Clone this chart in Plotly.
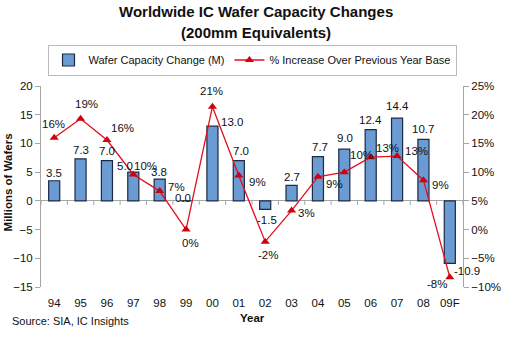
import plotly.graph_objects as go

years = ["94", "95", "96", "97", "98", "99", "00", "01", "02", "03", "04", "05", "06", "07", "08", "09F"]
capacity_change = [3.5, 7.3, 7.0, 5.0, 3.8, 0.0, 13.0, 7.0, -1.5, 2.7, 7.7, 9.0, 12.4, 14.4, 10.7, -10.9]
pct_increase = [16.0, 19.3, 15.6, 9.6, 6.7, 0.0, 21.4, 9.4, -2.1, 3.3, 9.2, 10.0, 12.6, 12.8, 8.6, -8.3]

xpos = list(range(len(years)))

# label offsets (pixels) - styling only
bar_lbl_shift = [(0, 8), (0, 9), (0, 10), (-8, 6), (-1, 7), (-3, 3), (20, 4), (2, 10),
                 (2, -11), (0, 8), (2, 10), (1, 11), (0, 10), (0, 12), (0, 10), (17, -8)]
pct_lbl_shift = [(-1, 14), (6, 15), (16, 12), (12, 8), (17, 4), (4, -13), (-1, 16), (19, -6),
                 (3, -13), (15, -2), (17, -7), (17, 17), (17, 9), (19, 5), (17, -5), (-13, -7)]

FONT = "Liberation Sans, Arial, sans-serif"
AXIS_GRAY = "#A6A6A6"
FS = 11.5

fig = go.Figure()
fig.add_trace(go.Bar(
    x=xpos, y=capacity_change, name="Wafer Capacity Change (M)",
    marker=dict(color="#6A9BD2", line=dict(color="#1B2A45", width=1.2)),
    width=0.42, yaxis="y",
))
fig.add_trace(go.Scatter(
    x=xpos, y=pct_increase, name="% Increase Over Previous Year Base",
    mode="lines+markers", yaxis="y2",
    line=dict(color="#E0101E", width=1.3),
    marker=dict(symbol="triangle-up", size=8, color="#D00010"),
))

ann = []
for i, v in enumerate(capacity_change):
    dx, dy = bar_lbl_shift[i]
    ann.append(dict(x=xpos[i], y=v, xref="x", yref="y", text=f"{v:.1f}", showarrow=False,
                    xanchor="center", yanchor="middle",
                    xshift=dx, yshift=dy, font=dict(size=FS, color="#111", family=FONT)))
for i, v in enumerate(pct_increase):
    dx, dy = pct_lbl_shift[i]
    ann.append(dict(x=xpos[i], y=v, xref="x", yref="y2", text=f"{v:.0f}%", showarrow=False,
                    xanchor="center", yanchor="middle",
                    xshift=dx, yshift=dy, font=dict(size=FS, color="#111", family=FONT)))

ann += [
    dict(x=0.51, y=1.372, xref="paper", yref="paper", showarrow=False, xanchor="center", yanchor="middle",
         text="<b>Worldwide IC Wafer Capacity Changes</b>", font=dict(size=15, color="#111", family=FONT)),
    dict(x=0.51, y=1.268, xref="paper", yref="paper", showarrow=False, xanchor="center", yanchor="middle",
         text="<b>(200mm Equivalents)</b>", font=dict(size=15, color="#111", family=FONT)),
    dict(x=-0.076, y=0.52, xref="paper", yref="paper", showarrow=False, textangle=-90,
         xanchor="center", yanchor="middle",
         text="<b>Millions of Wafers</b>", font=dict(size=11.5, color="#111", family=FONT)),
    dict(x=0.5, y=-0.154, xref="paper", yref="paper", showarrow=False, xanchor="center", yanchor="middle",
         text="<b>Year</b>", font=dict(size=11.5, color="#111", family=FONT)),
    dict(x=-0.0735, y=-0.169, xref="paper", yref="paper", showarrow=False, xanchor="left", yanchor="middle",
         text="Source: SIA, IC Insights", font=dict(size=11, color="#111", family=FONT)),
]

# small tick marks along the zero line between categories
shapes = []
for k in range(len(years) + 1):
    shapes.append(dict(type="line", xref="x", yref="y", x0=k - 0.5, x1=k - 0.5,
                       ysizemode="pixel", yanchor=0, y0=0, y1=-4,
                       line=dict(color=AXIS_GRAY, width=1)))

fig.update_layout(
    width=519, height=342,
    margin=dict(l=41, r=56, t=86, b=55),
    paper_bgcolor="white", plot_bgcolor="white",
    font=dict(family=FONT, size=FS, color="#111"),
    showlegend=True,
    legend=dict(orientation="h", x=0.5, xanchor="center", y=(287 - 60) / 201, yanchor="middle",
                bordercolor="#BBBBBB", borderwidth=1, font=dict(size=11),
                itemwidth=30, tracegroupgap=0),
    xaxis=dict(range=[-0.5, len(years) - 0.5], tickmode="array", tickvals=xpos, ticktext=years,
               showline=False, ticks="", showgrid=False, zeroline=False,
               tickfont=dict(size=FS), ticklabelstandoff=7),
    yaxis=dict(range=[-15, 20], dtick=5, showgrid=False, showline=True, linecolor=AXIS_GRAY,
               ticks="outside", ticklen=5, tickcolor=AXIS_GRAY, zeroline=True,
               zerolinecolor=AXIS_GRAY, zerolinewidth=1, tickfont=dict(size=FS)),
    yaxis2=dict(range=[-10, 25], dtick=5, overlaying="y", side="right", showgrid=False,
                showline=True, linecolor=AXIS_GRAY, ticks="outside", ticklen=5,
                tickcolor=AXIS_GRAY, ticksuffix="%", zeroline=False, tickfont=dict(size=FS)),
    annotations=ann,
    shapes=shapes,
)

fig.write_html("out.html")
